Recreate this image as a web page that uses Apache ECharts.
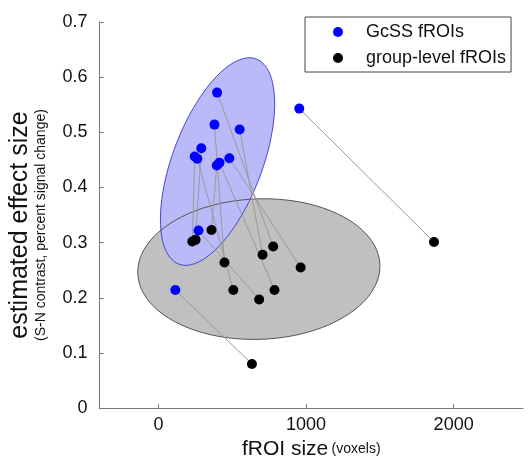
<!DOCTYPE html>
<html>
<head>
<meta charset="utf-8">
<script src="https://cdn.jsdelivr.net/npm/echarts@6/dist/echarts.min.js"></script>
<style>html,body{margin:0;padding:0;background:#fff;}#c{width:528px;height:465px;}</style>
</head>
<body>
<div id="c"></div>
<script>
// GcSS fROIs (blue)
const gcssX = [397, 379, 550, 290, 245, 263, 480, 413, 395, 271, 114, 954];
const gcssY = [0.572, 0.514, 0.505, 0.471, 0.456, 0.452, 0.453, 0.445, 0.440, 0.322, 0.214, 0.543];
// group-level fROIs (black), paired by index with GcSS fROIs
const groupX = [777, 447, 705, 251, 229, 507, 963, 786, 359, 682, 633, 1867];
const groupY = [0.293, 0.264, 0.278, 0.305, 0.302, 0.214, 0.255, 0.214, 0.323, 0.197, 0.080, 0.301];
// axis ticks
const xTicks = [0, 1000, 2000];
const yTicks = [0, 0.1, 0.2, 0.3, 0.4, 0.5, 0.6, 0.7];
// ellipses: center, semi-axis vectors (data units)
const gcssEllipse = {c: [400, 0.447], u: [262, 0.186], v: [285, -0.0285]};
const groupEllipse = {c: [680, 0.252], u: [820, 0], v: [34, 0.1275]};

const chart = echarts.init(document.getElementById('c'));
const font = 'Liberation Sans, Arial, sans-serif';

function ellipsePoints(api, e) {
  const pts = [];
  const n = 90;
  for (let i = 0; i < n; i++) {
    const t = 2 * Math.PI * i / n;
    const x = e.c[0] + Math.cos(t) * e.u[0] + Math.sin(t) * e.v[0];
    const y = e.c[1] + Math.cos(t) * e.u[1] + Math.sin(t) * e.v[1];
    pts.push(api.coord([x, y]));
  }
  return pts;
}

const links = gcssX.map((x, i) => [x, gcssY[i], groupX[i], groupY[i]]);

chart.setOption({
  animation: false,
  backgroundColor: '#fff',
  grid: {left: 98, right: 5, top: 22, bottom: 53},
  legend: {
    data: ['GcSS fROIs', 'group-level fROIs'],
    orient: 'vertical',
    left: 305, top: 17,
    icon: 'circle',
    itemWidth: 10, itemHeight: 10,
    itemGap: 8,
    padding: [6, 5, 5, 28],
    borderColor: '#444', borderWidth: 1,
    backgroundColor: '#fff',
    textStyle: {fontFamily: font, fontSize: 18, color: '#111', lineHeight: 18, padding: [0, 0, 0, 18]}
  },
  xAxis: {
    type: 'value', min: -400, max: 2470,
    name: '{a|fROI size} {b|(voxels)}',
    nameLocation: 'middle', nameGap: 27,
    nameTextStyle: {rich: {
      a: {fontFamily: font, fontSize: 21, color: '#111'},
      b: {fontFamily: font, fontSize: 14, color: '#111'}
    }},
    axisLine: {onZero: false, lineStyle: {color: '#777', width: 1}},
    axisTick: {inside: true, length: 4, customValues: xTicks, lineStyle: {color: '#777'}},
    axisLabel: {customValues: xTicks, margin: 8, fontFamily: font, fontSize: 18, color: '#111',
      formatter: v => String(v)},
    splitLine: {show: false}
  },
  yAxis: {
    type: 'value', min: 0, max: 0.7, interval: 0.1,
    name: '{a|estimated effect size}\n{b|(S-N contrast, percent signal change)}',
    nameLocation: 'middle', nameRotate: 90, nameGap: 50,
    nameTextStyle: {padding: [0, 20, 0, 0], rich: {
      a: {fontFamily: font, fontSize: 25, color: '#111', lineHeight: 26},
      b: {fontFamily: font, fontSize: 14, color: '#111', lineHeight: 16}
    }},
    axisLine: {show: true, onZero: false, lineStyle: {color: '#777', width: 1}},
    axisTick: {inside: true, length: 4, customValues: yTicks, lineStyle: {color: '#777'}},
    axisLabel: {margin: 12, fontFamily: font, fontSize: 18, color: '#111',
      formatter: v => v === 0 ? '0' : v.toFixed(1)},
    splitLine: {show: false}
  },
  series: [
    {
      type: 'custom', name: 'ellipses', z: 1, silent: true,
      data: [[0, 0]],
      renderItem: (params, api) => {
        const g = ellipsePoints(api, groupEllipse);
        const b = ellipsePoints(api, gcssEllipse);
        return {type: 'group', children: [
          {type: 'polygon', shape: {points: g}, style: {fill: '#c0c0c0', stroke: null}},
          {type: 'polygon', shape: {points: b}, style: {fill: '#babaf8', stroke: null}},
          {type: 'polygon', shape: {points: g}, style: {fill: null, stroke: '#555', lineWidth: 1}},
          {type: 'polygon', shape: {points: b}, style: {fill: null, stroke: '#4646d2', lineWidth: 1}}
        ]};
      }
    },
    {
      type: 'custom', name: 'links', z: 2, silent: true,
      data: links,
      renderItem: (params, api) => {
        const p1 = api.coord([api.value(0), api.value(1)]);
        const p2 = api.coord([api.value(2), api.value(3)]);
        return {type: 'line', shape: {x1: p1[0], y1: p1[1], x2: p2[0], y2: p2[1]},
          style: {stroke: '#9a9a9a', lineWidth: 1}};
      }
    },
    {
      type: 'scatter', name: 'group-level fROIs', z: 3,
      data: groupX.map((x, i) => [x, groupY[i]]),
      symbolSize: 10, itemStyle: {color: '#000', opacity: 1}
    },
    {
      type: 'scatter', name: 'GcSS fROIs', z: 4,
      data: gcssX.map((x, i) => [x, gcssY[i]]),
      symbolSize: 10, itemStyle: {color: '#0000ff', opacity: 1}
    }
  ]
});
</script>
</body>
</html>
